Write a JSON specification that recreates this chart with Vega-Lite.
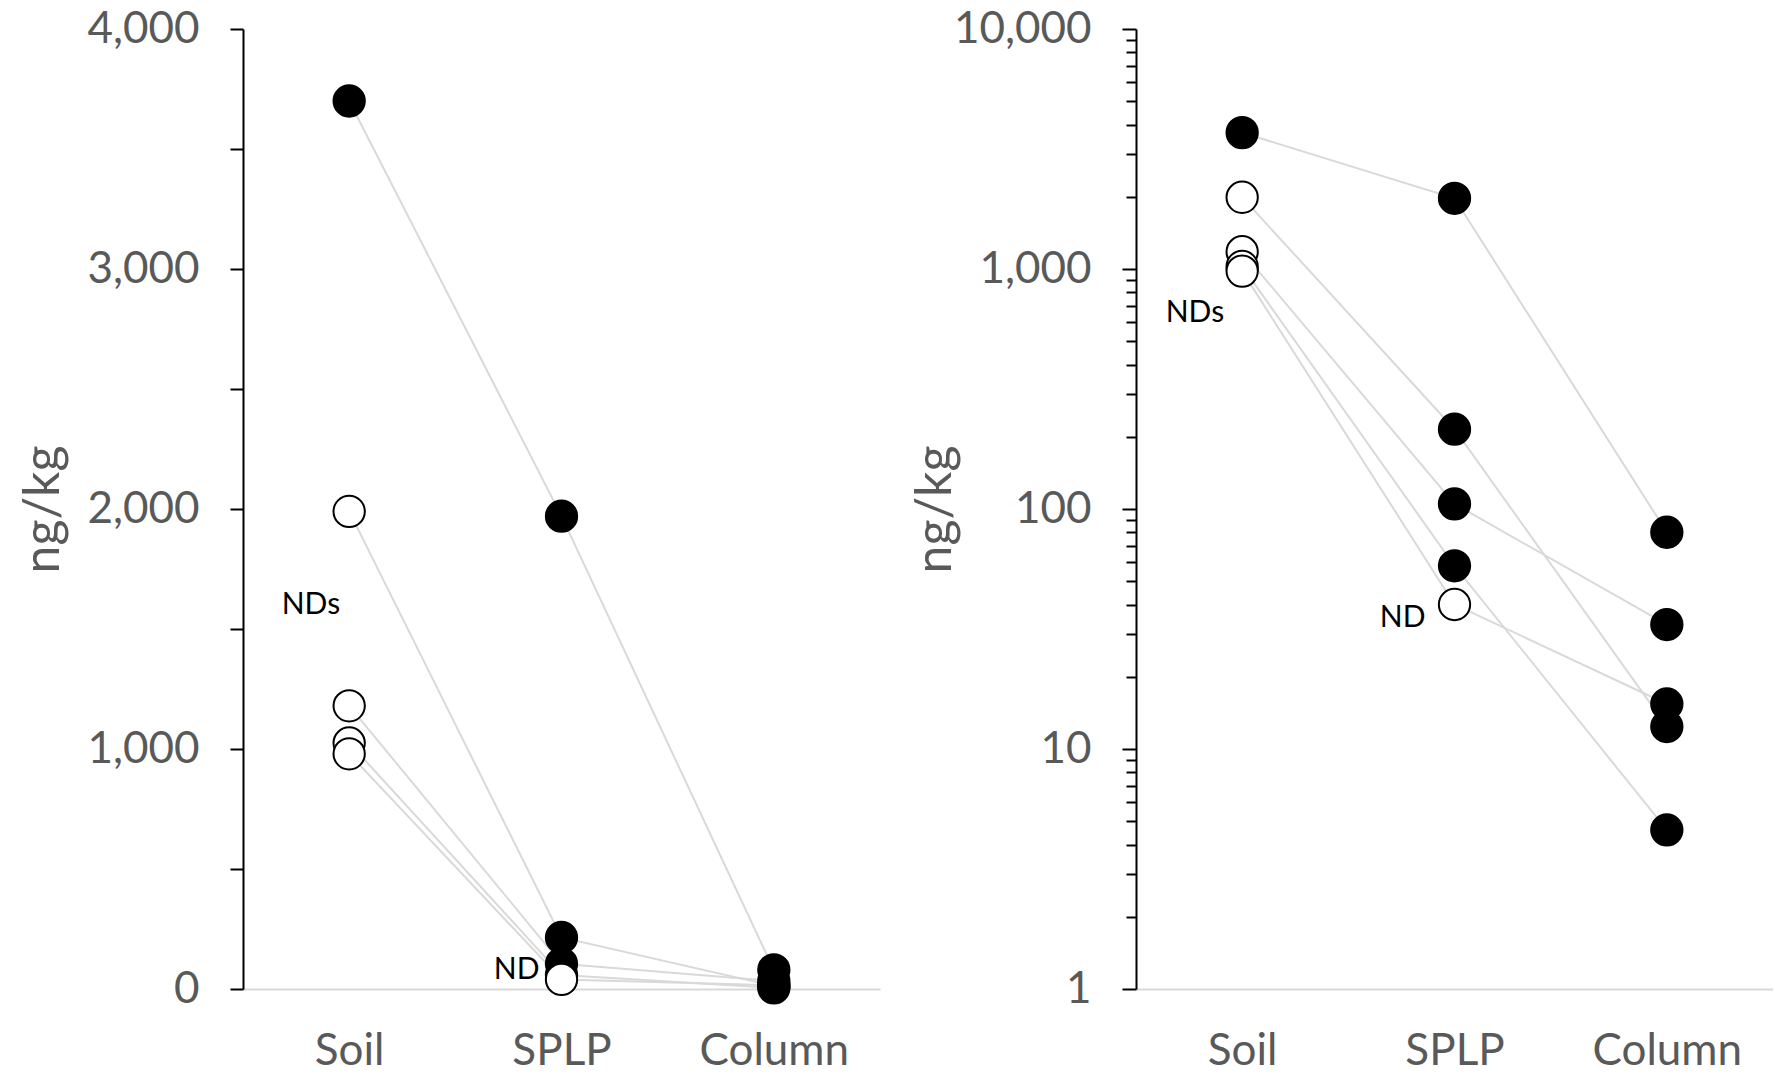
{
  "$schema": "https://vega.github.io/schema/vega-lite/v6.json",
  "background": "white",
  "padding": {"left": 18, "top": 7, "right": 0, "bottom": 0},
  "spacing": 30,
  "datasets": {
    "d": [
      {"sample": "S1", "stage": "Soil", "value": 3700, "nd": "no"},
      {"sample": "S1", "stage": "SPLP", "value": 1970, "nd": "no"},
      {"sample": "S1", "stage": "Column", "value": 80, "nd": "no"},
      {"sample": "S2", "stage": "Soil", "value": 1990, "nd": "yes"},
      {"sample": "S2", "stage": "SPLP", "value": 215, "nd": "no"},
      {"sample": "S2", "stage": "Column", "value": 12.4, "nd": "no"},
      {"sample": "S3", "stage": "Soil", "value": 1180, "nd": "yes"},
      {"sample": "S3", "stage": "SPLP", "value": 105, "nd": "no"},
      {"sample": "S3", "stage": "Column", "value": 33, "nd": "no"},
      {"sample": "S4", "stage": "Soil", "value": 1025, "nd": "yes"},
      {"sample": "S4", "stage": "SPLP", "value": 58, "nd": "no"},
      {"sample": "S4", "stage": "Column", "value": 4.6, "nd": "no"},
      {"sample": "S5", "stage": "Soil", "value": 980, "nd": "yes"},
      {"sample": "S5", "stage": "SPLP", "value": 40, "nd": "yes"},
      {"sample": "S5", "stage": "Column", "value": 15.4, "nd": "no"}
    ]
  },
  "config": {
    "font": "Lato",
    "view": {"stroke": null},
    "axis": {"grid": false, "labelFont": "Lato", "titleFont": "Lato", "labelColor": "#595959", "titleColor": "#595959", "titleFontWeight": "normal"}
  },
  "hconcat": [
    {
      "width": 637,
      "height": 960,
      "encoding": {
        "x": {"field": "stage", "type": "ordinal", "scale": {"type": "point", "padding": 0.5, "domain": ["Soil", "SPLP", "Column"]},
          "axis": {"title": null, "labelAngle": 0, "domainColor": "#d9d9d9", "domainWidth": 2, "ticks": false, "labelFontSize": 44, "labelPadding": 40}},
        "y": {"field": "value", "type": "quantitative", "scale": {"domain": [0, 4000], "nice": false},
          "axis": {"values": [0, 500, 1000, 1500, 2000, 2500, 3000, 3500, 4000], "labelExpr": "datum.value % 1000 === 0 ? format(datum.value, ',') : ''",
            "title": "ng/kg", "titleX": -200, "titleY": 480, "titleAngle": -90, "titleAlign": "center", "titleBaseline": "middle", "titleFontSize": 50,
            "labelFontSize": 44, "labelPadding": 31, "tickSize": 13, "tickWidth": 2, "tickColor": "black", "domainColor": "black", "domainWidth": 2}}
      },
      "layer": [
        {"data": {"name": "d"}, "mark": {"type": "line", "color": "#d9d9d9", "strokeWidth": 2}, "encoding": {"detail": {"field": "sample"}}},
        {"data": {"name": "d"}, "mark": {"type": "circle", "size": 980, "stroke": "black", "strokeWidth": 2, "opacity": 1},
          "encoding": {"fill": {"field": "nd", "type": "nominal", "scale": {"domain": ["yes", "no"], "range": ["white", "black"]}, "legend": null}}},
        {"data": {"values": [{"stage": "Soil", "value": 1600, "label": "NDs"}]}, "mark": {"type": "text", "align": "right", "baseline": "middle", "dx": -9, "fontSize": 30, "color": "black", "font": "Lato"}, "encoding": {"text": {"field": "label"}}},
        {"data": {"values": [{"stage": "SPLP", "value": 80, "label": "ND"}]}, "mark": {"type": "text", "align": "right", "baseline": "middle", "dx": -22, "fontSize": 30, "color": "black", "font": "Lato"}, "encoding": {"text": {"field": "label"}}}
      ]
    },
    {
      "width": 637,
      "height": 960,
      "encoding": {
        "x": {"field": "stage", "type": "ordinal", "scale": {"type": "point", "padding": 0.5, "domain": ["Soil", "SPLP", "Column"]},
          "axis": {"title": null, "labelAngle": 0, "domainColor": "#d9d9d9", "domainWidth": 2, "ticks": false, "labelFontSize": 44, "labelPadding": 40}},
        "y": {"field": "value", "type": "quantitative", "scale": {"type": "log", "domain": [1, 10000], "nice": false},
          "axis": {"values": [1, 2, 3, 4, 5, 6, 7, 8, 9, 10, 20, 30, 40, 50, 60, 70, 80, 90, 100, 200, 300, 400, 500, 600, 700, 800, 900, 1000, 2000, 3000, 4000, 5000, 6000, 7000, 8000, 9000, 10000],
            "labelExpr": "indexof([1, 10, 100, 1000, 10000], datum.value) >= 0 ? format(datum.value, ',') : ''",
            "title": "ng/kg", "titleX": -201, "titleY": 480, "titleAngle": -90, "titleAlign": "center", "titleBaseline": "middle", "titleFontSize": 50,
            "labelFontSize": 44, "labelPadding": 31,
            "tickSize": {"condition": {"test": "indexof([1, 10, 100, 1000, 10000], datum.value) >= 0", "value": 14}, "value": 10},
            "tickWidth": 2, "tickColor": "black", "domainColor": "black", "domainWidth": 2}}
      },
      "layer": [
        {"data": {"name": "d"}, "mark": {"type": "line", "color": "#d9d9d9", "strokeWidth": 2}, "encoding": {"detail": {"field": "sample"}}},
        {"data": {"name": "d"}, "mark": {"type": "circle", "size": 980, "stroke": "black", "strokeWidth": 2, "opacity": 1},
          "encoding": {"fill": {"field": "nd", "type": "nominal", "scale": {"domain": ["yes", "no"], "range": ["white", "black"]}, "legend": null}}},
        {"data": {"values": [{"stage": "Soil", "value": 656, "label": "NDs"}]}, "mark": {"type": "text", "align": "right", "baseline": "middle", "dx": -18, "fontSize": 30, "color": "black", "font": "Lato"}, "encoding": {"text": {"field": "label"}}},
        {"data": {"values": [{"stage": "SPLP", "value": 35, "label": "ND"}]}, "mark": {"type": "text", "align": "right", "baseline": "middle", "dx": -29, "fontSize": 30, "color": "black", "font": "Lato"}, "encoding": {"text": {"field": "label"}}}
      ]
    }
  ]
}
